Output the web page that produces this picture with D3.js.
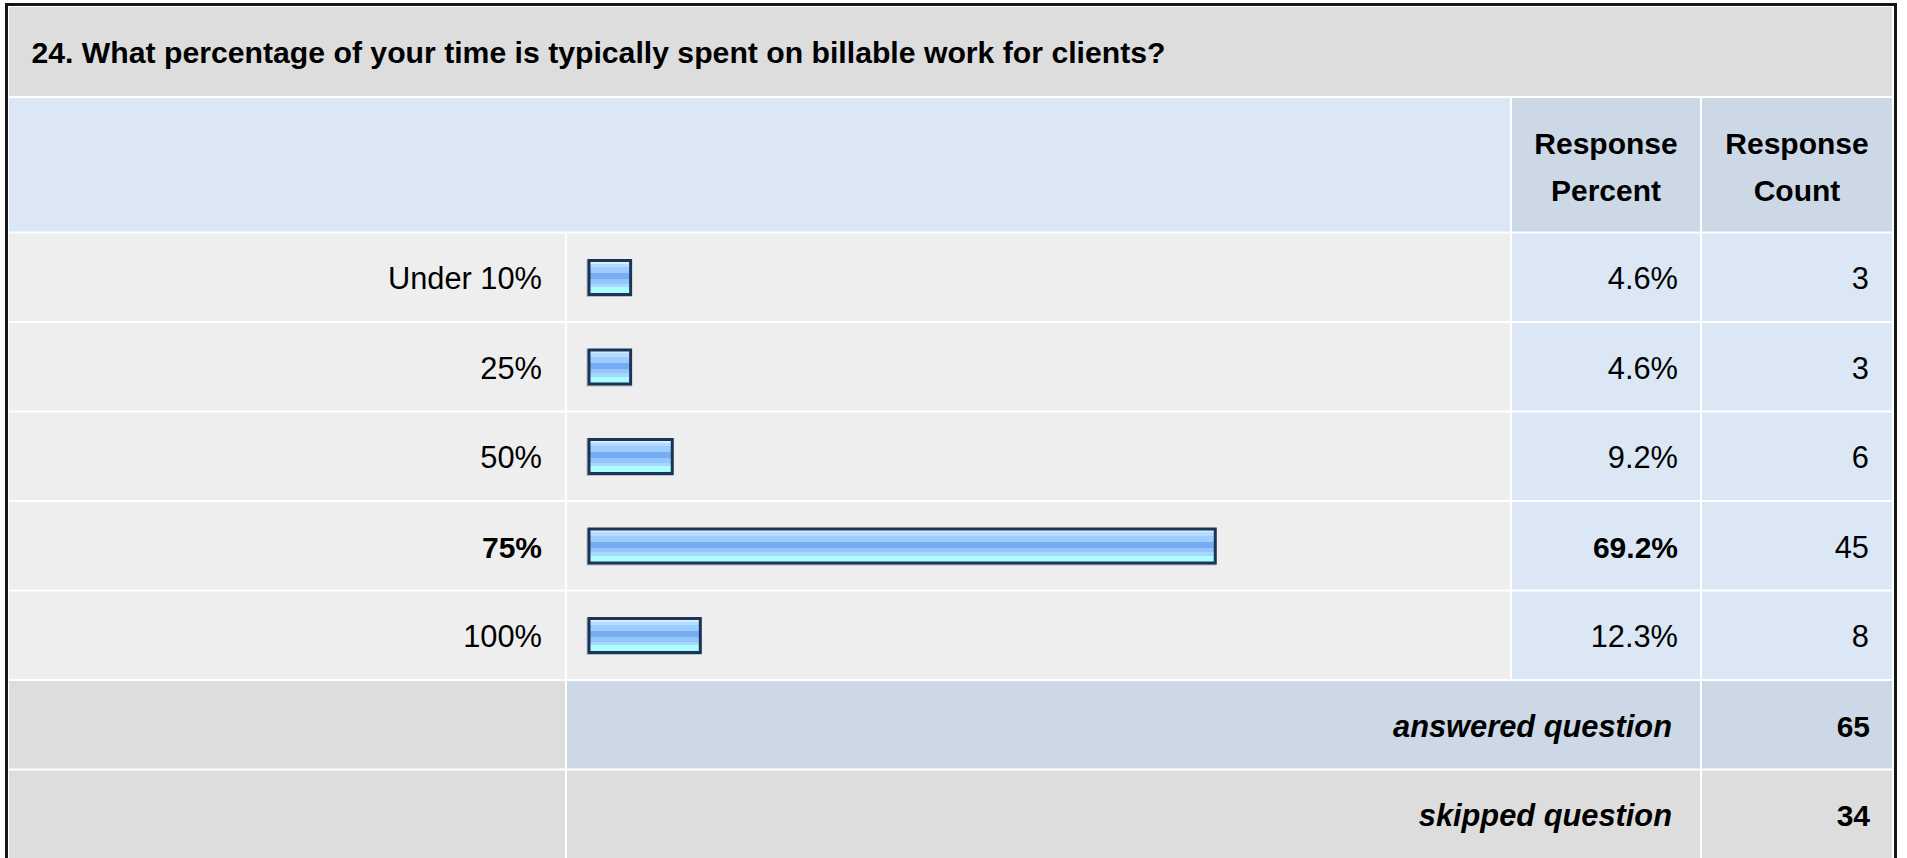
<!DOCTYPE html>
<html>
<head>
<meta charset="utf-8">
<script src="https://cdn.jsdelivr.net/npm/d3@7"></script>
<style>
  html, body { margin: 0; padding: 0; background: #ffffff; }
  svg { display: block; }
  text { font-family: "Liberation Sans", Arial, sans-serif; fill: #000; }
</style>
</head>
<body>
<svg id="chart" width="1907" height="858"></svg>
<script>
// ---- data ----
const title = "24. What percentage of your time is typically spent on billable work for clients?";
const categories = ["Under 10%", "25%", "50%", "75%", "100%"];
const percents = [4.6, 4.6, 9.2, 69.2, 12.3];
const counts = [3, 3, 6, 45, 8];
const headerPercent = ["Response", "Percent"];
const headerCount = ["Response", "Count"];
const answeredLabel = "answered question";
const skippedLabel = "skipped question";
const answered = 65;
const skipped = 34;

// ---- layout ----
const svg = d3.select("#chart");
const W = 1907, H = 858;
const colLabel = [9, 565], colBar = [567, 1510], colPct = [1512, 1700], colCnt = [1702, 1892];
const titleRow = [7, 96], headerRow = [98, 231.5];
const rowTop = 233.5, rowPitch = 89.5, gap = 2;
const fs = 30, fsReg = 30.8;

const C = {
  title: "#dddddd", header: "#dce7f5", headerCell: "#ccd8e6",
  row: "#eeeeee", dataCell: "#dce7f5", grey: "#dddddd", summary: "#ccd8e6"
};

svg.append("rect").attr("width", W).attr("height", H).attr("fill", "#fff");

function cell(x0, x1, y0, y1, fill) {
  svg.append("rect").attr("x", x0).attr("y", y0).attr("width", x1 - x0).attr("height", y1 - y0).attr("fill", fill);
}

// title row
cell(colLabel[0], colCnt[1], titleRow[0], titleRow[1], C.title);
svg.append("text").attr("x", 31.5).attr("y", 63.3).attr("font-size", 30.2).attr("font-weight", "bold").text(title);

// header row
cell(colLabel[0], colBar[1], headerRow[0], headerRow[1], C.header);
cell(colPct[0], colPct[1], headerRow[0], headerRow[1], C.headerCell);
cell(colCnt[0], colCnt[1], headerRow[0], headerRow[1], C.headerCell);
[[colPct, headerPercent], [colCnt, headerCount]].forEach(([col, lines]) => {
  lines.forEach((t, i) => {
    svg.append("text").attr("x", (col[0] + col[1]) / 2).attr("y", 154 + i * 46.5)
      .attr("text-anchor", "middle").attr("font-size", fs).attr("font-weight", "bold").text(t);
  });
});

// scales
const y = d3.scaleBand().domain(categories).range([rowTop, rowTop + rowPitch * categories.length]).paddingInner(0);
const x = d3.scaleLinear().domain([0, 100]).range([0, 905]);
const maxIdx = percents.indexOf(d3.max(percents));

// gradient
const defs = svg.append("defs");
const grad = defs.append("linearGradient").attr("id", "barGrad").attr("x1", 0).attr("y1", 0).attr("x2", 0).attr("y2", 1);
[
  [0, "#d6eeff"], [0.1, "#d6eeff"], [0.1, "#b4dcff"], [0.2, "#b4dcff"], [0.2, "#9dcdfe"], [0.38, "#9dcdfe"],
  [0.38, "#77acf2"], [0.55, "#77acf2"], [0.55, "#94c6fb"], [0.68, "#94c6fb"], [0.68, "#a6d8ff"], [0.78, "#a6d8ff"],
  [0.78, "#acfdff"], [1, "#acfdff"]
].forEach(([o, c]) => grad.append("stop").attr("offset", o).attr("stop-color", c));

const rows = svg.append("g").selectAll("g").data(categories).join("g");
rows.each(function (cat, i) {
  const g = d3.select(this);
  const t = y(cat), b = t + y.bandwidth() - gap, mid = t + (y.bandwidth() - gap) / 2;
  const bold = i === maxIdx;
  const weight = bold ? "bold" : "normal";
  const size = bold ? fs : fsReg;
  g.append("rect").attr("x", colLabel[0]).attr("y", t).attr("width", colLabel[1] - colLabel[0]).attr("height", b - t).attr("fill", C.row);
  g.append("rect").attr("x", colBar[0]).attr("y", t).attr("width", colBar[1] - colBar[0]).attr("height", b - t).attr("fill", C.row);
  g.append("rect").attr("x", colPct[0]).attr("y", t).attr("width", colPct[1] - colPct[0]).attr("height", b - t).attr("fill", C.dataCell);
  g.append("rect").attr("x", colCnt[0]).attr("y", t).attr("width", colCnt[1] - colCnt[0]).attr("height", b - t).attr("fill", C.dataCell);
  // label
  g.append("text").attr("x", 542).attr("y", mid + 12).attr("text-anchor", "end").attr("font-size", size).attr("font-weight", weight).text(cat);
  // bar shadow + bar
  const bx = 589, by = t + 27, bh = 34, bw = x(percents[i]);
  g.append("rect").attr("x", bx - 2.5).attr("y", by - 1).attr("width", bw + 3.5).attr("height", bh + 3.5).attr("fill", "#b7bec8");
  g.append("rect").attr("x", bx).attr("y", by).attr("width", bw).attr("height", bh)
    .attr("fill", "url(#barGrad)").attr("stroke", "#1c3557").attr("stroke-width", 3);
  // percent & count
  g.append("text").attr("x", 1678).attr("y", mid + 12).attr("text-anchor", "end").attr("font-size", size).attr("font-weight", weight)
    .text(percents[i].toFixed(1) + "%");
  g.append("text").attr("x", 1869).attr("y", mid + 12).attr("text-anchor", "end").attr("font-size", fsReg).text(counts[i]);
});

// summary rows
const aTop = rowTop + rowPitch * categories.length;
const aBot = aTop + rowPitch - gap;
cell(colLabel[0], colLabel[1], aTop, aBot, C.grey);
cell(colBar[0], colPct[1], aTop, aBot, C.summary);
cell(colCnt[0], colCnt[1], aTop, aBot, C.summary);
const aMid = (aTop + aBot) / 2;
svg.append("text").attr("x", 1672).attr("y", aMid + 12).attr("text-anchor", "end").attr("font-size", fsReg)
  .attr("font-weight", "bold").attr("font-style", "italic").text(answeredLabel);
svg.append("text").attr("x", 1870).attr("y", aMid + 12).attr("text-anchor", "end").attr("font-size", fs)
  .attr("font-weight", "bold").text(answered);

const sTop = aTop + rowPitch;
const sBot = sTop + rowPitch - gap;
cell(colLabel[0], colLabel[1], sTop, sBot, C.grey);
cell(colBar[0], colPct[1], sTop, sBot, C.grey);
cell(colCnt[0], colCnt[1], sTop, sBot, C.grey);
const sMid = (sTop + sBot) / 2;
svg.append("text").attr("x", 1672).attr("y", sMid + 12).attr("text-anchor", "end").attr("font-size", fsReg)
  .attr("font-weight", "bold").attr("font-style", "italic").text(skippedLabel);
svg.append("text").attr("x", 1870).attr("y", sMid + 12).attr("text-anchor", "end").attr("font-size", fs)
  .attr("font-weight", "bold").text(skipped);

// outer border
svg.append("path").attr("d", `M6.5,${H + 5} V4.5 H1895.5 V${H + 5}`).attr("fill", "none").attr("stroke", "#161616").attr("stroke-width", 3);
</script>
</body>
</html>
